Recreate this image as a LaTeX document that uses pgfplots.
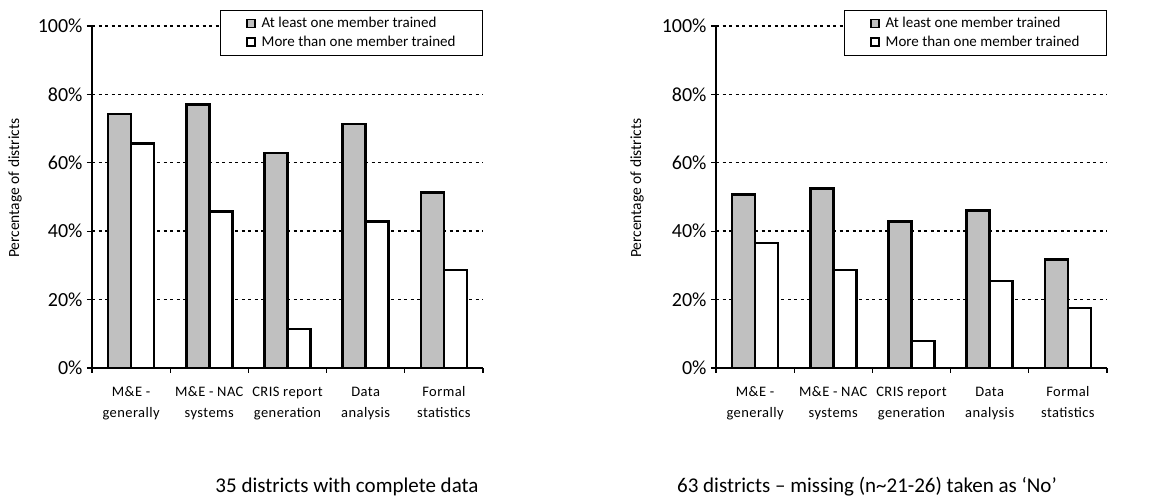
\documentclass[border=0pt]{standalone}
\usepackage{pgfplots}
\pgfplotsset{compat=1.18}
\usepackage{fontspec}
\setmainfont{Carlito}
\newfontfamily\catfont[LetterSpace=3]{Carlito}
\definecolor{bargray}{RGB}{192,192,192}

\pgfplotsset{
  trainstyle/.style={
    scale only axis, width=391pt, height=342pt,
    ymin=0, ymax=100, xmin=-0.5, xmax=4.5,
    axis x line*=bottom, axis y line*=left,
    axis line style={black, line width=1.2pt, -},
    ybar=0pt, bar width=23pt,
    ytick={0,20,40,60,80,100},
    yticklabels={0\%,20\%,40\%,60\%,80\%,100\%},
    yticklabel style={font=\fontsize{20}{20}\selectfont, xshift=-1pt},
    ymajorgrids,
    grid style={black, line width=1.4pt, dash pattern=on 3pt off 3.5pt},
    tick align=outside,
    major tick length=5pt,
    tick style={black, line width=1.2pt},
    xtick={-0.5,0.5,1.5,2.5,3.5,4.5},
    xticklabels={},
    extra x ticks={0,1,2,3,4},
    extra x tick labels={{\strut M\&E -\\\strut generally},{\strut M\&E - NAC\\\strut systems},{\strut CRIS report\\\strut generation},{\strut Data\\\strut analysis},{\strut Formal\\\strut statistics}},
    extra x tick style={major tick length=0pt,
      xticklabel style={font=\catfont\fontsize{14.5}{21}\selectfont, align=center, yshift=-10pt}},
    ylabel={Percentage of districts},
    ylabel style={font=\fontsize{15.5}{15.5}\selectfont, at={(axis description cs:-0.197,0.526)}, anchor=center},
    legend style={at={(axis description cs:1.0,1.047)}, anchor=north east, draw=black, line width=1pt,
      font=\fontsize{15}{15}\selectfont, inner xsep=25pt, inner ysep=5pt, row sep=3pt, column sep=4pt},
    legend cell align=left,
  }
}

\begin{document}
\begin{tikzpicture}
\useasboundingbox (0,0) rectangle (1161pt,503pt);

\begin{axis}[trainstyle, at={(92pt,135pt)}, anchor=south west]
\addplot[fill=bargray, draw=black, line width=2.6pt, legend image code/.code={\draw[fill=bargray, draw=black, line width=1.7pt] (0pt,-4pt) rectangle (8pt,4pt);}]
  coordinates {(0,74.3) (1,77.1) (2,62.9) (3,71.4) (4,51.4)};
\addplot[fill=white, draw=black, line width=2.6pt, legend image code/.code={\draw[fill=white, draw=black, line width=1.7pt] (0pt,-4pt) rectangle (8pt,4pt);}]
  coordinates {(0,65.7) (1,45.7) (2,11.4) (3,42.9) (4,28.6)};
\legend{At least one member trained, More than one member trained}
\end{axis}

\begin{axis}[trainstyle, at={(716pt,135pt)}, anchor=south west,
  ylabel style={at={(axis description cs:-0.202,0.526)}}]
\addplot[fill=bargray, draw=black, line width=2.6pt, legend image code/.code={\draw[fill=bargray, draw=black, line width=1.7pt] (0pt,-4pt) rectangle (8pt,4pt);}]
  coordinates {(0,50.8) (1,52.4) (2,42.9) (3,46.0) (4,31.7)};
\addplot[fill=white, draw=black, line width=2.6pt, legend image code/.code={\draw[fill=white, draw=black, line width=1.7pt] (0pt,-4pt) rectangle (8pt,4pt);}]
  coordinates {(0,36.5) (1,28.6) (2,7.9) (3,25.4) (4,17.5)};
\legend{At least one member trained, More than one member trained}
\end{axis}

\node[font=\fontsize{21}{21}\selectfont, anchor=base] at (347pt,10pt) {35 districts with complete data};
\node[font=\fontsize{21}{21}\selectfont, anchor=base] at (867pt,10pt) {63 districts – missing (n\textasciitilde 21-26) taken as ‘No’};
\end{tikzpicture}
\end{document}
